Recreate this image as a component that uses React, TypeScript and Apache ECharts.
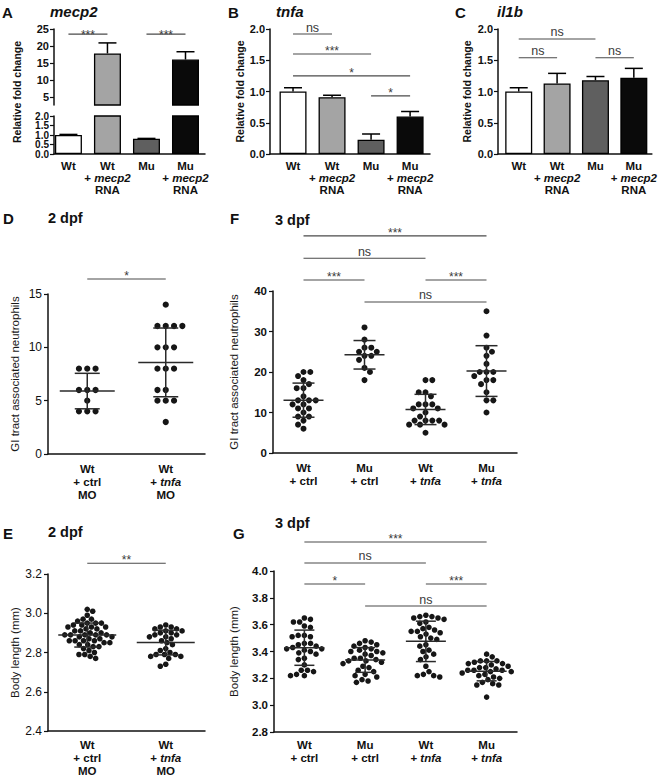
import React, { useEffect, useRef } from 'react';
import * as echarts from 'echarts';

const FONT = '"Liberation Sans", Arial, Helvetica, sans-serif';

// ---------- A–C : relative fold change (mean + upper error) ----------
const barGroups = ['Wt', 'Wt\n+ {i|mecp2}\nRNA', 'Mu', 'Mu\n+ {i|mecp2}\nRNA'];
const barFills = ['#ffffff', '#a4a4a4', '#5f5f5f', '#0a0a0a'];
const mecp2Mean = [1.0, 17.8, 0.8, 16.0];
const mecp2Err = [0.03, 3.1, 0.02, 2.3];
const tnfaMean = [1.0, 0.91, 0.23, 0.6];
const tnfaErr = [0.06, 0.03, 0.09, 0.08];
const il1bMean = [1.0, 1.13, 1.18, 1.22];
const il1bErr = [0.06, 0.16, 0.06, 0.15];
const mecp2UpperTicks = [5, 10, 15, 20, 25];
const mecp2LowerTicksA = [0, 1.0, 2.0];
const mecp2LowerTicksB = [0.5, 1.5];

// significance brackets: [fromGroup, toGroup, height in axis units]
const mecp2Sig = [[0, 1, 23.5], [2, 3, 23.5]];
const mecp2SigText = ['***', '***'];
const tnfaSig = [[0, 1, 1.92], [0, 2, 1.6], [0, 3, 1.25], [2, 3, 0.93]];
const tnfaSigText = ['ns', '***', '*', '*'];
const il1bSig = [[0, 2, 1.84], [0, 1, 1.54], [2, 3, 1.54]];
const il1bSigText = ['ns', 'ns', 'ns'];

// ---------- D : GI tract neutrophils, 2 dpf ----------
const moGroups = ['Wt\n+ ctrl\nMO', 'Wt\n+ {i|tnfa}\nMO'];
const neut2Ctrl = [8, 8, 8, 6, 6, 6, 5, 4, 4, 4];
const neut2Tnfa = [14, 12, 12, 12, 12, 10, 10, 10, 8, 8, 8, 6, 6, 5, 5, 5, 3];
const neut2Sig = [[0, 1, 16.4]];
const neut2SigText = ['*'];

// ---------- F : GI tract neutrophils, 3 dpf ----------
const dpf3Groups = ['Wt\n+ ctrl', 'Mu\n+ ctrl', 'Wt\n+ {i|tnfa}', 'Mu\n+ {i|tnfa}'];
const neut3WtCtrl = [20, 20, 19, 18, 17, 16, 16, 14, 13, 13, 13, 12, 12, 11, 11, 10, 9, 9, 8, 7, 6];
const neut3MuCtrl = [31, 28, 26, 26, 25, 25, 24, 24, 23, 21, 20, 18];
const neut3WtTnfa = [18, 18, 15, 15, 14, 12, 12, 12, 11, 11, 10, 9, 8, 8, 8, 8, 7, 7, 7, 5];
const neut3MuTnfa = [35, 29, 26, 25, 24, 22, 20, 20, 20, 19, 18, 18, 17, 15, 13, 13, 10];
const neut3Sig = [[0, 3, 53.6], [0, 2, 48.1], [0, 1, 42.7], [2, 3, 42.7], [1, 3, 37.3]];
const neut3SigText = ['***', 'ns', '***', '***', 'ns'];

// ---------- E : body length, 2 dpf ----------
const body2Ctrl = [3.02, 3.01, 2.99, 2.97, 2.97, 2.96, 2.95, 2.95, 2.95, 2.94, 2.94, 2.93, 2.93, 2.93, 2.92, 2.92,
  2.91, 2.91, 2.90, 2.90, 2.89, 2.89, 2.89, 2.89, 2.89, 2.88, 2.88, 2.87, 2.87, 2.86, 2.86, 2.86, 2.86, 2.85, 2.85,
  2.84, 2.84, 2.83, 2.83, 2.82, 2.81, 2.80, 2.79, 2.79, 2.78, 2.77];
const body2Tnfa = [2.94, 2.93, 2.93, 2.92, 2.92, 2.91, 2.91, 2.90, 2.90, 2.89, 2.89, 2.88, 2.88, 2.87, 2.86, 2.85,
  2.84, 2.82, 2.81, 2.80, 2.79, 2.79, 2.79, 2.78, 2.78, 2.77, 2.74, 2.73];
const body2Sig = [[0, 1, 3.255]];
const body2SigText = ['**'];

// ---------- G : body length, 3 dpf ----------
const body3WtCtrl = [3.65, 3.64, 3.62, 3.62, 3.59, 3.58, 3.52, 3.52, 3.51, 3.51, 3.46, 3.46, 3.45, 3.44, 3.43, 3.42,
  3.42, 3.41, 3.40, 3.39, 3.38, 3.35, 3.34, 3.30, 3.26, 3.26, 3.25, 3.23, 3.22, 3.22];
const body3MuCtrl = [3.48, 3.47, 3.46, 3.45, 3.44, 3.43, 3.42, 3.41, 3.40, 3.40, 3.39, 3.38, 3.37, 3.35, 3.35, 3.34,
  3.33, 3.33, 3.32, 3.31, 3.29, 3.28, 3.26, 3.25, 3.23, 3.22, 3.21, 3.19, 3.18, 3.17];
const body3WtTnfa = [3.67, 3.66, 3.65, 3.65, 3.64, 3.66, 3.62, 3.61, 3.58, 3.57, 3.56, 3.55, 3.55, 3.54, 3.53, 3.51,
  3.50, 3.49, 3.45, 3.44, 3.41, 3.40, 3.38, 3.36, 3.34, 3.29, 3.25, 3.22, 3.21, 3.22, 3.23];
const body3MuTnfa = [3.38, 3.36, 3.33, 3.33, 3.33, 3.32, 3.31, 3.31, 3.30, 3.29, 3.28, 3.28, 3.27, 3.26, 3.26, 3.26,
  3.25, 3.25, 3.24, 3.23, 3.22, 3.21, 3.20, 3.19, 3.17, 3.16, 3.15, 3.15, 3.06];
const body3Sig = [[0, 3, 4.216], [0, 2, 4.06], [0, 1, 3.903], [2, 3, 3.903], [1, 3, 3.739]];
const body3SigText = ['***', 'ns', '*', '***', 'ns'];

// ---------- layout ----------
const grids = [
  { left: 54, top: 29, width: 151, height: 76 },   // 0 A upper
  { left: 54, top: 116, width: 151, height: 38 },  // 1 A lower
  { left: 270, top: 29, width: 160, height: 125 }, // 2 B
  { left: 498, top: 29, width: 157, height: 125 }, // 3 C
  { left: 48, top: 294, width: 157, height: 160 }, // 4 D
  { left: 273, top: 291, width: 244, height: 162 },// 5 F
  { left: 48, top: 574, width: 157, height: 160 }, // 6 E
  { left: 274, top: 571, width: 243, height: 161 },// 7 G
];

function swarm(values: number[], pxPerUnit: number, d: number): number[] {
  const order = values.map((_, i) => i).sort((a, b) => values[b] - values[a]);
  const placed: { x: number; y: number }[] = [];
  const out = new Array(values.length).fill(0);
  let flip = 1;
  for (const i of order) {
    const y = values[i] * pxPerUnit;
    const iv: [number, number][] = [];
    for (const p of placed) {
      const dy = Math.abs(p.y - y);
      if (dy < d) {
        const h = Math.sqrt(d * d - dy * dy);
        iv.push([p.x - h, p.x + h]);
      }
    }
    const cands = [0];
    iv.forEach(([a, b]) => cands.push(a, b));
    const ok = (x: number) => iv.every(([a, b]) => x <= a + 1e-6 || x >= b - 1e-6);
    let best = Infinity;
    let bx = 0;
    for (const c of cands) {
      if (!ok(c)) continue;
      const s = Math.abs(c) + (Math.sign(c) === flip ? 0 : 1e-3);
      if (s < best) { best = s; bx = c; }
    }
    if (bx !== 0) flip = -Math.sign(bx);
    out[i] = bx;
    placed.push({ x: bx, y });
  }
  return out;
}

const meanOf = (a: number[]) => a.reduce((s, v) => s + v, 0) / a.length;
const sdOf = (a: number[]) => {
  const m = meanOf(a);
  return Math.sqrt(a.reduce((s, v) => s + (v - m) * (v - m), 0) / (a.length - 1));
};

const richLabel = {
  i: { fontStyle: 'italic', fontWeight: 'bold', fontSize: 11.5, fontFamily: FONT, color: '#111', lineHeight: 12 },
};

function yAxis(gi: number, min: number, max: number, interval: number | undefined, extra: any = {}) {
  const { axisLabel, ...rest } = extra;
  return {
    type: 'value', gridIndex: gi, min, max, interval, position: 'left', offset: 0,
    axisLine: { show: true, onZero: false, lineStyle: { color: '#111', width: 1.5 } },
    axisTick: { show: true, length: 4, lineStyle: { color: '#111', width: 1.2 } },
    splitLine: { show: false },
    axisLabel: {
      margin: 5, color: '#111', fontFamily: FONT, fontSize: 11, fontWeight: 'bold',
      showMinLabel: true, showMaxLabel: true, hideOverlap: false,
      ...(axisLabel || {}),
    },
    ...rest,
  };
}

function barXAxis(gi: number, min: number, max: number, show = true) {
  return {
    type: 'value', gridIndex: gi, min, max, show,
    axisLine: { show: true, onZero: false, lineStyle: { color: '#111', width: 1.5 } },
    axisTick: { show: false },
    splitLine: { show: false },
    axisLabel: {
      customValues: [0, 1, 2, 3],
      formatter: (v: number) => barGroups[Math.round(v)],
      margin: 6, color: '#111', fontFamily: FONT, fontSize: 11.5, fontWeight: 'bold', lineHeight: 12,
      showMinLabel: true, showMaxLabel: true,
      rich: richLabel,
    },
  };
}

function catXAxis(gi: number, cats: string[], margin: number) {
  return {
    type: 'category', gridIndex: gi, data: cats,
    axisLine: { show: true, onZero: false, lineStyle: { color: '#111', width: 1.5 } },
    axisTick: { show: false },
    splitLine: { show: false },
    axisLabel: {
      interval: 0, margin, color: '#111', fontFamily: FONT, fontSize: 11.5, fontWeight: 'bold', lineHeight: 13,
      rich: { i: { ...richLabel.i, lineHeight: 13 } },
    },
  };
}

function barSeries(gi: number, means: number[], filter?: (v: number) => boolean) {
  const data: any[] = [];
  means.forEach((v, i) => {
    if (filter && !filter(v)) return;
    data.push({ value: [i, v], itemStyle: { color: barFills[i] } });
  });
  return {
    type: 'bar', xAxisIndex: gi, yAxisIndex: gi, barWidth: 27, clip: true, silent: true,
    itemStyle: { borderColor: '#000', borderWidth: 1.3 },
    data,
  };
}

function errSeries(gi: number, means: number[], errs: number[], clip = false) {
  return {
    type: 'custom', xAxisIndex: gi, yAxisIndex: gi, clip, silent: true, z: 5,
    encode: { x: 0, y: 1 },
    data: means.map((m, i) => [i, m, errs[i]]),
    renderItem: (params: any, api: any) => {
      const x = api.value(0), m = api.value(1), e = api.value(2);
      const a = api.coord([x, m]);
      const b = api.coord([x, m + e]);
      const st = { stroke: '#000', lineWidth: 1.5 };
      return {
        type: 'group',
        children: [
          { type: 'line', shape: { x1: a[0], y1: a[1], x2: b[0], y2: b[1] }, style: st },
          { type: 'line', shape: { x1: b[0] - 9, y1: b[1], x2: b[0] + 9, y2: b[1] }, style: st },
        ],
      };
    },
  };
}

function sigSeries(gi: number, pairs: number[][], labels: string[], gap: number) {
  return {
    type: 'custom', xAxisIndex: gi, yAxisIndex: gi, clip: false, silent: true, z: 6,
    encode: { x: [0, 1], y: 2 },
    data: pairs,
    renderItem: (params: any, api: any) => {
      const a = api.coord([api.value(0), api.value(2)]);
      const b = api.coord([api.value(1), api.value(2)]);
      const label = labels[params.dataIndex];
      const ns = label === 'ns';
      return {
        type: 'group',
        children: [
          { type: 'line', shape: { x1: a[0], y1: a[1], x2: b[0], y2: b[1] }, style: { stroke: '#4a4a4a', lineWidth: 1.1 } },
          {
            type: 'text',
            style: {
              text: label, x: (a[0] + b[0]) / 2, y: a[1] - (ns ? gap : gap - 3.5),
              align: 'center', verticalAlign: 'middle',
              fontSize: ns ? 12.5 : 12, fontFamily: FONT, fill: '#3a3a3a',
            },
          },
        ],
      };
    },
  };
}

function scatterSeries(gi: number, groups: number[][], d: number, r: number, meanW: number, capW: number, min: number, max: number) {
  const ppu = grids[gi].height / (max - min);
  const dots: number[][] = [];
  groups.forEach((vals, g) => {
    const off = swarm(vals, ppu, d);
    vals.forEach((v, k) => dots.push([g, v, off[k]]));
  });
  const stats = groups.map((vals, g) => [g, meanOf(vals), sdOf(vals)]);
  return [
    {
      type: 'custom', xAxisIndex: gi, yAxisIndex: gi, silent: true, z: 3,
      encode: { x: 0, y: 1 }, data: dots,
      renderItem: (params: any, api: any) => {
        const p = api.coord([api.value(0), api.value(1)]);
        return { type: 'circle', shape: { cx: p[0] + api.value(2), cy: p[1], r }, style: { fill: '#161616' } };
      },
    },
    {
      type: 'custom', xAxisIndex: gi, yAxisIndex: gi, silent: true, z: 4,
      encode: { x: 0, y: 1 }, data: stats,
      renderItem: (params: any, api: any) => {
        const x = api.value(0), m = api.value(1), s = api.value(2);
        const pm = api.coord([x, m]);
        const ph = api.coord([x, m + s]);
        const pl = api.coord([x, m - s]);
        const st = { stroke: '#2a2a2a', lineWidth: 1.5 };
        return {
          type: 'group',
          children: [
            { type: 'line', shape: { x1: pm[0] - meanW / 2, y1: pm[1], x2: pm[0] + meanW / 2, y2: pm[1] }, style: st },
            { type: 'line', shape: { x1: ph[0], y1: ph[1], x2: pl[0], y2: pl[1] }, style: st },
            { type: 'line', shape: { x1: ph[0] - capW / 2, y1: ph[1], x2: ph[0] + capW / 2, y2: ph[1] }, style: st },
            { type: 'line', shape: { x1: pl[0] - capW / 2, y1: pl[1], x2: pl[0] + capW / 2, y2: pl[1] }, style: st },
          ],
        };
      },
    },
  ];
}

const fmt1 = (v: number) => v.toFixed(1);

function txt(text: string, x: number, y: number, size: number, extra: any = {}) {
  return {
    type: 'text', x, y, silent: true,
    style: { text, fontFamily: FONT, fontSize: size, fontWeight: 'bold', fill: '#111', verticalAlign: 'middle', align: 'left', ...extra },
  };
}

function buildOption() {
  const nameStyleBold = { fontFamily: FONT, fontSize: 10.5, fontWeight: 'bold', color: '#111' };
  const nameStyle = { fontFamily: FONT, fontSize: 11.5, color: '#1a1a1a' };
  const regLabel = { fontWeight: 'normal', fontSize: 12, margin: 6 };
  const smallTickLabel = { formatter: fmt1, fontSize: 10, lineHeight: 9 };
  return {
    animation: false,
    backgroundColor: '#ffffff',
    grid: grids.map((g) => ({ ...g, containLabel: false })),
    xAxis: [
      barXAxis(0, -0.37, 3.5, false),
      barXAxis(1, -0.37, 3.5),
      barXAxis(2, -0.59, 3.51),
      barXAxis(3, -0.54, 3.47),
      catXAxis(4, moGroups, 8),
      catXAxis(5, dpf3Groups, 8),
      catXAxis(6, moGroups, 7),
      catXAxis(7, dpf3Groups, 6),
    ],
    yAxis: [
      yAxis(0, 2.6, 25, undefined, {
        axisLabel: { customValues: mecp2UpperTicks },
        axisTick: { show: true, length: 4, customValues: mecp2UpperTicks, lineStyle: { color: '#111', width: 1.2 } },
      }),
      yAxis(1, 0, 2, 0.5, {
        axisLabel: { ...smallTickLabel, customValues: mecp2LowerTicksA },
      }),
      yAxis(2, 0, 2, 0.5, {
        axisLabel: { formatter: fmt1 },
        name: 'Relative fold change', nameLocation: 'middle', nameGap: 22, nameTextStyle: nameStyleBold,
      }),
      yAxis(3, 0, 2, 0.5, {
        axisLabel: { formatter: fmt1 },
        name: 'Relative fold change', nameLocation: 'middle', nameGap: 26, nameTextStyle: nameStyleBold,
      }),
      yAxis(4, 0, 15, 5, {
        axisLabel: regLabel,
        name: 'GI tract associated neutrophils', nameLocation: 'middle', nameGap: 27, nameTextStyle: nameStyle,
      }),
      yAxis(5, 0, 40, 10, {
        axisLabel: { margin: 6, fontSize: 11.5 },
        name: 'GI tract associated neutrophils', nameLocation: 'middle', nameGap: 33, nameTextStyle: nameStyle,
      }),
      yAxis(6, 2.4, 3.2, 0.2, {
        axisLabel: { ...regLabel, formatter: fmt1 },
        name: 'Body length (mm)', nameLocation: 'middle', nameGap: 27, nameTextStyle: nameStyle,
      }),
      yAxis(7, 2.8, 4.0, 0.2, {
        axisLabel: { margin: 6, fontSize: 11.5, formatter: fmt1 },
        name: 'Body length (mm)', nameLocation: 'middle', nameGap: 34, nameTextStyle: nameStyle,
      }),
      // second label layer for A lower segment (half-step labels)
      yAxis(1, 0, 2, 0.5, {
        axisLine: { show: false },
        axisTick: { show: false },
        axisLabel: { ...smallTickLabel, customValues: mecp2LowerTicksB },
      }),
    ],
    graphic: [
      txt('A', 2, 12, 15),
      txt('mecp2', 50, 11, 15, { fontStyle: 'italic' }),
      txt('B', 228, 12, 15),
      txt('tnfa', 276, 11, 15, { fontStyle: 'italic' }),
      txt('C', 455, 12, 15),
      txt('il1b', 497, 11, 15, { fontStyle: 'italic' }),
      { ...txt('Relative fold change', 17, 92, 10.5, { align: 'center' }), rotation: Math.PI / 2 },
      txt('D', 3, 218, 15),
      txt('2 dpf', 48, 218, 14.5),
      txt('F', 230, 218, 15),
      txt('3 dpf', 275, 220, 14.5),
      txt('E', 3, 533, 15),
      txt('2 dpf', 48, 532, 14.5),
      txt('G', 233, 533, 15),
      txt('3 dpf', 275, 523, 14.5),
    ],
    series: [
      barSeries(0, mecp2Mean, (v) => v > 2),
      barSeries(1, mecp2Mean),
      errSeries(0, mecp2Mean, mecp2Err, true),
      errSeries(1, mecp2Mean, mecp2Err, true),
      barSeries(2, tnfaMean),
      errSeries(2, tnfaMean, tnfaErr),
      barSeries(3, il1bMean),
      errSeries(3, il1bMean, il1bErr),
      sigSeries(0, mecp2Sig, mecp2SigText, 3),
      sigSeries(2, tnfaSig, tnfaSigText, 6.5),
      sigSeries(3, il1bSig, il1bSigText, 7),
      ...scatterSeries(4, [neut2Ctrl, neut2Tnfa], 8.3, 3.1, 55, 25, 0, 15),
      sigSeries(4, neut2Sig, neut2SigText, 6.5),
      ...scatterSeries(5, [neut3WtCtrl, neut3MuCtrl, neut3WtTnfa, neut3MuTnfa], 6.8, 3.0, 40, 22, 0, 40),
      sigSeries(5, neut3Sig, neut3SigText, 6.5),
      ...scatterSeries(6, [body2Ctrl, body2Tnfa], 5.8, 2.8, 58, 26, 2.4, 3.2),
      sigSeries(6, body2Sig, body2SigText, 6.5),
      ...scatterSeries(7, [body3WtCtrl, body3MuCtrl, body3WtTnfa, body3MuTnfa], 6.2, 2.8, 40, 20, 2.8, 4.0),
      sigSeries(7, body3Sig, body3SigText, 6.5),
    ],
  };
}

export default function App() {
  const ref = useRef<HTMLDivElement>(null);
  useEffect(() => {
    if (!ref.current) return;
    const chart = echarts.init(ref.current, undefined, { renderer: 'svg' });
    chart.setOption(buildOption() as any);
    return () => chart.dispose();
  }, []);
  return (
    <div
      ref={ref}
      style={{ position: 'absolute', left: 0, top: 0, width: 660, height: 777, background: '#fff' }}
    />
  );
}
